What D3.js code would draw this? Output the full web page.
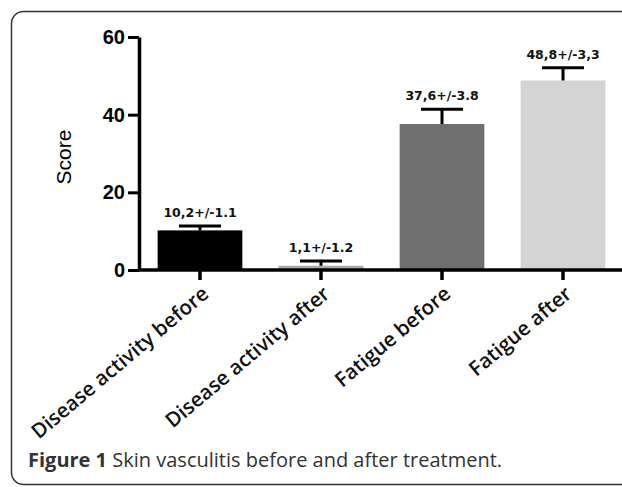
<!DOCTYPE html>
<html lang="en">
<head>
    <meta charset="utf-8">
    <title>Skin vasculitis</title>
    <script src="https://d3js.org/d3.v7.min.js"></script>
    <style>
        body { margin: 0; background: #fff; }
    </style>
</head>
<body>
<div id="chart"></div>
<script>
    // values
    const categories = ["Disease activity before", "Disease activity after", "Fatigue before", "Fatigue after"];
    const means = [10.2, 1.1, 37.6, 48.8];
    const errors = [1.1, 1.2, 3.8, 3.3];
    const barLabels = ["10,2+/-1.1", "1,1+/-1.2", "37,6+/-3.8", "48,8+/-3,3"];
    const barColors = ["#000000", "#a9a9a9", "#6f6f6f", "#d4d4d4"];
    const yTicks = [0, 20, 40, 60];

    const W = 622, H = 487;

    const svg = d3.select("#chart")
        .append("svg")
        .attr("width", W)
        .attr("height", H);

    // figure frame (rounded, runs off the right side)
    svg.append("rect")
        .attr("x", 11.5)
        .attr("y", 11.5)
        .attr("width", 700)
        .attr("height", 473)
        .attr("rx", 12)
        .attr("fill", "none")
        .attr("stroke", "#333")
        .attr("stroke-width", 1.5);

    const x = d3.scaleBand()
        .domain(categories)
        .range([139, 624])
        .paddingInner(0.3)
        .paddingOuter(0.154);

    const y = d3.scaleLinear()
        .domain([0, 60])
        .range([270, 37]);

    // bars
    svg.selectAll("rect.bar")
        .data(categories)
        .join("rect")
        .attr("class", "bar")
        .attr("x", d => x(d))
        .attr("width", x.bandwidth())
        .attr("y", (d, i) => y(means[i]))
        .attr("height", (d, i) => y(0) - y(means[i]))
        .attr("fill", (d, i) => barColors[i]);

    // upper error bars
    const capHalf = 21;
    const err = svg.append("g")
        .attr("stroke", "#000")
        .attr("stroke-width", 3);
    categories.forEach((c, i) => {
        const cx = x(c) + x.bandwidth() / 2;
        err.append("line")
            .attr("x1", cx).attr("x2", cx)
            .attr("y1", y(means[i])).attr("y2", y(means[i] + errors[i]));
        err.append("line")
            .attr("x1", cx - capHalf).attr("x2", cx + capHalf)
            .attr("y1", y(means[i] + errors[i])).attr("y2", y(means[i] + errors[i]));
    });

    // value labels
    svg.selectAll("text.val")
        .data(categories)
        .join("text")
        .attr("class", "val")
        .attr("x", d => x(d) + x.bandwidth() / 2)
        .attr("y", (d, i) => y(means[i] + errors[i]) - 9)
        .attr("text-anchor", "middle")
        .attr("font-family", "DejaVu Sans, Verdana, sans-serif")
        .attr("font-weight", "bold")
        .attr("font-size", "12.5px")
        .attr("fill", "#111")
        .text((d, i) => barLabels[i]);

    // y axis
    const yAxis = svg.append("g")
        .attr("transform", "translate(139,0)")
        .call(d3.axisLeft(y).tickValues(yTicks).tickSize(11).tickPadding(3).tickSizeOuter(0));
    yAxis.select(".domain").attr("stroke", "#000").attr("stroke-width", 3.5);
    yAxis.selectAll(".tick line").attr("stroke", "#000").attr("stroke-width", 3);
    yAxis.selectAll(".tick text")
        .attr("font-family", "Liberation Sans, Arial, sans-serif")
        .attr("font-weight", "bold")
        .attr("font-size", "20px")
        .attr("fill", "#000");

    // x axis
    const xAxis = svg.append("g")
        .attr("transform", "translate(0,270)")
        .call(d3.axisBottom(x).tickSize(10).tickSizeOuter(0));
    xAxis.select(".domain").attr("stroke", "#000").attr("stroke-width", 3.5)
        .attr("d", "M139,0H622");
    xAxis.selectAll(".tick line").attr("stroke", "#000").attr("stroke-width", 3.5);
    xAxis.selectAll(".tick text")
        .attr("font-family", "Open Sans, sans-serif")
        .attr("font-weight", "600")
        .attr("font-size", "20.5px")
        .attr("fill", "#111")
        .attr("text-anchor", "end")
        .attr("dy", 0)
        .attr("y", 0)
        .attr("transform", "translate(10,26) rotate(-40)");

    // y label
    svg.append("text")
        .attr("transform", "translate(71,157) rotate(-90)")
        .attr("text-anchor", "middle")
        .attr("font-family", "Liberation Sans, Arial, sans-serif")
        .attr("font-size", "21px")
        .attr("fill", "#000")
        .text("Score");

    // caption
    const cap = svg.append("text")
        .attr("x", 28)
        .attr("y", 467)
        .attr("font-family", "Open Sans, sans-serif")
        .attr("font-size", "20px")
        .attr("fill", "#333");
    cap.append("tspan").attr("font-weight", "bold").text("Figure 1");
    cap.append("tspan").text(" Skin vasculitis before and after treatment.");
</script>
</body>
</html>
